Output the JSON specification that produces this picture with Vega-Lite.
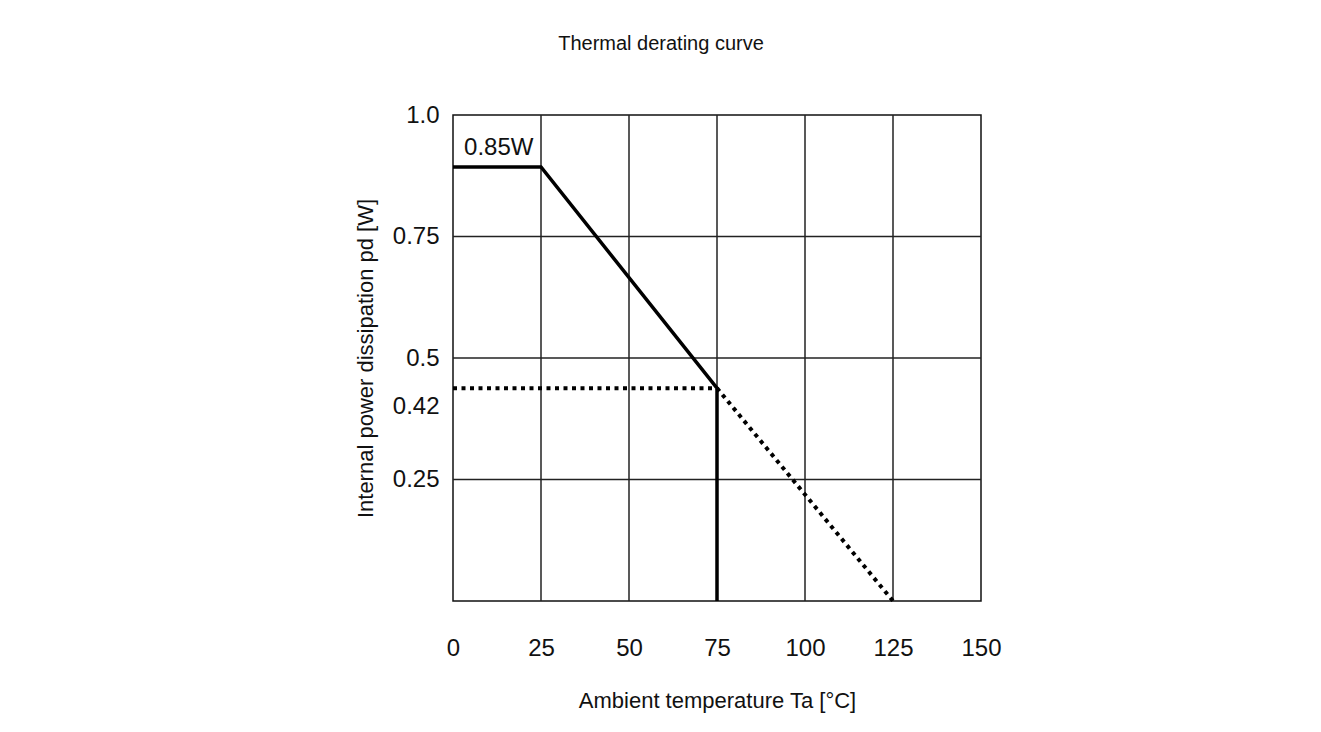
{
  "$schema": "https://vega.github.io/schema/vega-lite/v6.json",
  "autosize": {"type": "none"},
  "padding": {"left": 453, "top": 115, "right": 340, "bottom": 131},
  "width": 528,
  "height": 486,
  "background": "white",
  "config": {
    "font": "Liberation Sans",
    "view": {"stroke": "#111", "strokeWidth": 1.5},
    "axis": {"labelFont": "Liberation Sans", "titleFont": "Liberation Sans", "labelColor": "#111", "titleColor": "#111", "titleFontWeight": "normal"}
  },
  "title": {"text": "Thermal derating curve", "font": "Liberation Sans", "fontSize": 20, "fontWeight": "normal", "color": "#111", "anchor": "middle", "dx": -56, "offset": 49},
  "datasets": {
    "gridx": [{"t": 25}, {"t": 50}, {"t": 75}, {"t": 100}, {"t": 125}],
    "gridy": [{"p": 0.25}, {"p": 0.5}, {"p": 0.75}],
    "curve": [
      {"o": 1, "t": 0, "p": 0.893},
      {"o": 2, "t": 25, "p": 0.893},
      {"o": 3, "t": 75, "p": 0.438},
      {"o": 4, "t": 75, "p": 0}
    ],
    "dotted": [
      {"seg": "a", "o": 1, "t": 0, "p": 0.438},
      {"seg": "a", "o": 2, "t": 75, "p": 0.438},
      {"seg": "b", "o": 1, "t": 75, "p": 0.438},
      {"seg": "b", "o": 2, "t": 125, "p": 0}
    ],
    "label": [{"t": 13, "p": 0.932, "text": "0.85W"}]
  },
  "encoding": {
    "x": {"type": "quantitative"},
    "y": {"type": "quantitative"}
  },
  "layer": [
    {
      "data": {"name": "gridx"},
      "mark": {"type": "rule", "color": "#222", "strokeWidth": 1.5},
      "encoding": {
        "x": {"field": "t", "type": "quantitative", "scale": {"domain": [0, 150], "nice": false},
          "axis": {"values": [0, 25, 50, 75, 100, 125, 150], "grid": false, "ticks": false, "domain": false, "labelFlush": false, "labelOverlap": false, "labelFontSize": 24, "labelPadding": 35, "title": "Ambient temperature Ta [°C]", "titleFontSize": 22, "titlePadding": 30}}
      }
    },
    {
      "data": {"name": "gridy"},
      "mark": {"type": "rule", "color": "#222", "strokeWidth": 1.5},
      "encoding": {
        "y": {"field": "p", "type": "quantitative", "scale": {"domain": [0, 1], "nice": false},
          "axis": {"values": [0.25, 0.4, 0.5, 0.75, 1], "labelExpr": "datum.value == 0.4 ? '0.42' : datum.value == 1 ? '1.0' : datum.value == 0.75 ? '0.75' : datum.value == 0.5 ? '0.5' : '0.25'", "grid": false, "ticks": false, "domain": false, "labelFlush": false, "labelOverlap": false, "labelFontSize": 24, "labelPadding": 14, "title": "Internal power dissipation pd [W]", "titleFontSize": 22, "titlePadding": 15}}
      }
    },
    {
      "data": {"name": "dotted"},
      "mark": {"type": "line", "color": "#000", "strokeWidth": 4, "strokeDash": [4, 4.5]},
      "encoding": {
        "x": {"field": "t", "type": "quantitative"},
        "y": {"field": "p", "type": "quantitative"},
        "detail": {"field": "seg"},
        "order": {"field": "o"}
      }
    },
    {
      "data": {"name": "curve"},
      "mark": {"type": "line", "color": "#000", "strokeWidth": 3.5},
      "encoding": {
        "x": {"field": "t", "type": "quantitative"},
        "y": {"field": "p", "type": "quantitative"},
        "order": {"field": "o"}
      }
    },
    {
      "data": {"name": "label"},
      "mark": {"type": "text", "fontSize": 24, "color": "#111", "align": "center", "baseline": "middle", "font": "Liberation Sans"},
      "encoding": {
        "x": {"field": "t", "type": "quantitative"},
        "y": {"field": "p", "type": "quantitative"},
        "text": {"field": "text"}
      }
    }
  ]
}
